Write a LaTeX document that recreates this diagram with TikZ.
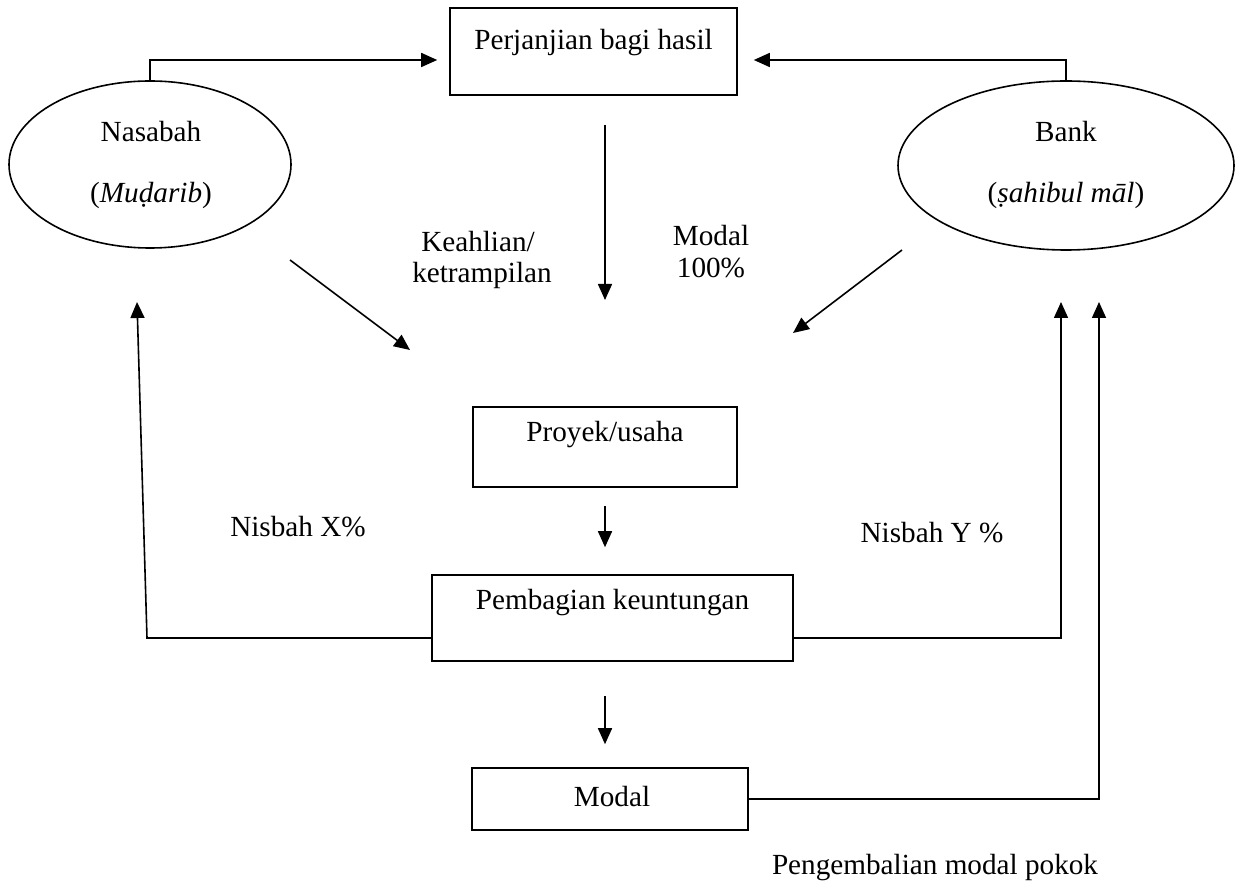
\documentclass[tikz,border=0pt]{standalone}
\usepackage{fontspec}
\setmainfont{Liberation Serif}
\usetikzlibrary{arrows.meta,shapes.geometric}
\begin{document}
\begin{tikzpicture}[x=0.5pt,y=-0.5pt,
  every node/.style={font=\fontsize{14.6}{17.5}\selectfont, inner sep=0pt},
  box/.style={draw, line width=0.8pt},
  oval/.style={draw, ellipse, line width=0.8pt, inner sep=0pt},
  conn/.style={line width=0.8pt},
  arr/.style={conn, -{Triangle[length=8pt,width=7pt]}}]
\useasboundingbox (0,0) rectangle (1241,892);
% boxes
\node[box, minimum width=143.5pt, minimum height=43.5pt] (perj) at (593.5,51.5) {};
\node[box, minimum width=132pt, minimum height=40pt] (proj) at (605,447) {};
\node[box, minimum width=180.5pt, minimum height=43pt] (pemb) at (612.5,618) {};
\node[box, minimum width=138pt, minimum height=31pt] (modal) at (610,799) {};
\node[oval, minimum width=141pt, minimum height=83.5pt] (nas) at (150,164.5) {};
\node[oval, minimum width=168pt, minimum height=84.5pt] (bank) at (1066,165.5) {};
% texts
\node (tperj) at (593.5,43) {Perjanjian bagi hasil};
\node (tproj) at (605,435) {Proyek/usaha};
\node (tpemb) at (612.5,603) {Pembagian keuntungan};
\node (tmodal) at (612,797) {Modal};
\node (tnas1) at (151,132) {Nasabah};
\node (tnas2) at (151,195) {(\textit{Muḍarib})};
\node (tbank1) at (1066,132) {Bank};
\node (tbank2) at (1066,195) {(\textit{ṣahibul māl})};
\node (tkeah1) at (478,242) {Keahlian/};
\node (tkeah2) at (482,275) {ketrampilan};
\node (tmod1) at (711,236) {Modal};
\node (tmod2) at (711,268) {100\%};
\node (tnx) at (298,527) {Nisbah X\%};
\node (tny) at (932,533) {Nisbah Y \%};
\node (tpeng) at (935,868) {Pengembalian modal pokok};
% connectors
\draw[arr] (nas.north) |- ([xshift=-6pt,yshift=-4.25pt]perj.west);
\draw[arr] (bank.north) |- ([xshift=8pt,yshift=-4.25pt]perj.east);
\coordinate (d1) at (605,125);
\coordinate (d2) at (605,300);
\draw[arr] (d1) -- (d2);
\coordinate (l1) at (290,260);
\coordinate (l2) at (410,350);
\draw[arr] (l1) -- (l2);
\coordinate (r1) at (902,250);
\coordinate (r2) at (793,333);
\draw[arr] (r1) -- (r2);
\draw[arr] ([yshift=-9pt]proj.south) -- ([yshift=13.5pt]pemb.north -| proj.south);
\draw[arr] ([yshift=-17pt]pemb.south -| proj.south) -- ([yshift=11.5pt]modal.north -| proj.south);
\coordinate (lc) at (147,638);
\coordinate (lt) at (137,302);
\draw[arr] ([yshift=-10pt]pemb.west) -- (lc) -- (lt);
\coordinate (rt) at (1061,302);
\draw[arr] ([yshift=-10pt]pemb.east) -| (rt);
\coordinate (mt) at (1099,302);
\draw[arr] (modal.east) -| (mt);
\end{tikzpicture}
\end{document}
